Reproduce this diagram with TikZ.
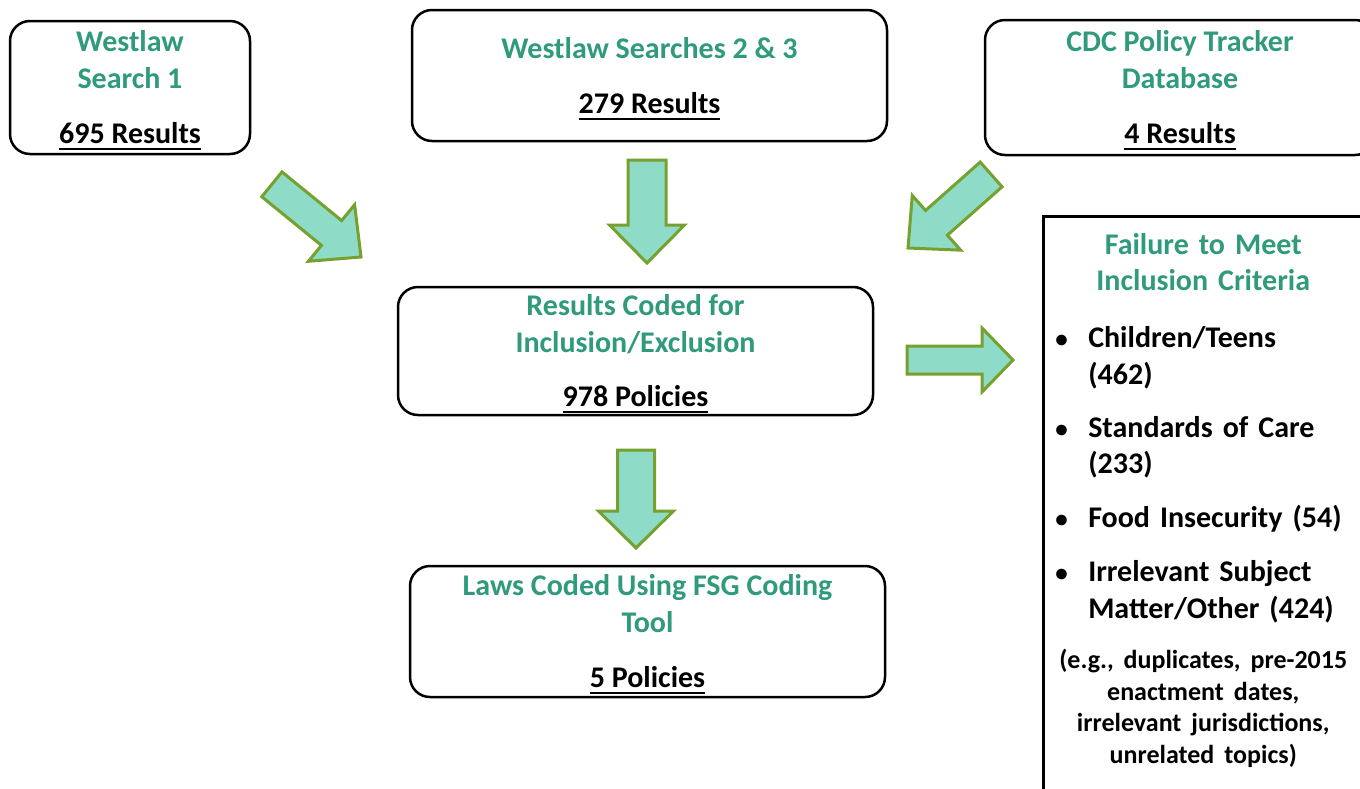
\documentclass[tikz,border=0pt]{standalone}
\usepackage{fontspec}
\setmainfont{Carlito}
\usetikzlibrary{positioning}
\definecolor{heading}{HTML}{2F9A7C}
\definecolor{mint}{HTML}{8EDCC8}
\definecolor{olive}{HTML}{76A12E}
\newcommand{\bigfont}{\fontsize{30}{36.5}\selectfont\bfseries}
\newcommand{\countline}[1]{\setbox0\hbox{#1}\rlap{\smash{\rule[-6pt]{\wd0}{2pt}}}\box0}
\newcommand{\blockarrow}[6]{\filldraw[fill=mint,draw=olive,line width=3pt,shift={(#1)},rotate=#2] (0,0) -- (-#5,#6/2) -- (-#5,#4/2) -- (-#3,#4/2) -- (-#3,-#4/2) -- (-#5,-#4/2) -- (-#5,-#6/2) -- cycle;}
\newcommand{\failitem}[1]{\par\hangindent=33pt\hangafter=1\noindent\makebox[33pt][l]{\fontsize{25}{25}\selectfont\textbullet}#1\par}

\begin{document}
\begin{tikzpicture}[x=1pt,y=-1pt,
  box/.style={draw,line width=2.5pt,rounded corners=20pt,align=center,text=heading,font=\bigfont},
  failbox/.style={draw,line width=2.5pt,anchor=north west,text width=296pt,align=left,inner xsep=12pt,inner ysep=17pt,font=\bigfont}]
\useasboundingbox (0,0) rectangle (1360,788);
\clip (0,0) rectangle (1360,788);
\node[box,minimum width=240,minimum height=133] (search1) at (130,87.5) {Westlaw\\Search 1\\[19pt]\textcolor{black}{\countline{695 Results}}};
\node[box,minimum width=475,minimum height=131] (search23) at (649.5,75.5) {Westlaw Searches 2 \& 3\\[19pt]\textcolor{black}{\countline{279 Results}}};
\node[box,minimum width=390,minimum height=135] (cdc) at (1180,87.5) {CDC Policy Tracker\\Database\\[19pt]\textcolor{black}{\countline{4 Results}}};
\node[box,minimum width=475,minimum height=128] (coded) at (635.5,351) {Results Coded for\\Inclusion/Exclusion\\[18pt]\textcolor{black}{\countline{978 Policies}}};
\node[box,minimum width=475,minimum height=131] (laws) at (647.5,631.5) {Laws Coded Using FSG Coding\\Tool\\[19pt]\textcolor{black}{\countline{5 Policies}}};
\node[failbox] (fail) at (1042,215) {\setlength{\parindent}{0pt}%
{\centering\color{heading}Failure to Meet\\Inclusion Criteria\par}
\vspace{20.5pt}
\failitem{Children/Teens\newline(462)}
\vspace{16.5pt}
\failitem{Standards of Care\newline(233)}
\vspace{17.5pt}
\failitem{Food Insecurity (54)}
\vspace{17.5pt}
\failitem{Irrelevant Subject\newline Matter/Other (424)}
\vspace{19pt}
{\centering\fontsize{26}{31.5}\selectfont(e.g., duplicates, pre-2015\\enactment dates,\\irrelevant jurisdictions,\\unrelated topics)\par}
\vbox to 40pt{}};
\blockarrow{361,257}{-39.2}{115}{32}{38}{73}
\blockarrow{647,263}{-90}{103}{38}{38}{75}
\blockarrow{908,248}{-138.5}{111}{33}{38}{73}
\blockarrow{636,548}{-90}{98}{37}{37}{75}
\blockarrow{1013,360}{0}{106}{28}{31}{64}
\end{tikzpicture}
\end{document}
